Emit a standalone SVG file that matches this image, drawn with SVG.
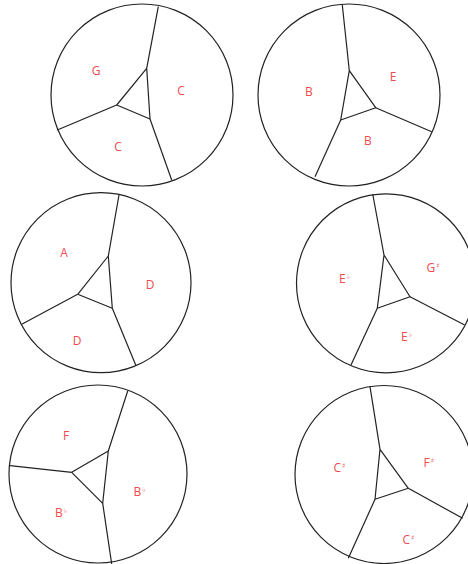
<svg xmlns="http://www.w3.org/2000/svg" width="468" height="564" viewBox="0 0 468 564">
<style>
.c{fill:none;stroke:#222;stroke-width:1.2}
.l{fill:none;stroke:#222;stroke-width:1.2;stroke-linejoin:round}
.t{font-family:"Open Sans","Liberation Sans",sans-serif;font-size:12px;fill:#ee4a4f}
.m{text-anchor:middle}
.a{font-family:"DejaVu Sans",sans-serif;font-size:7px}
</style>
<rect width="468" height="564" fill="#fff"/>
<g id="chord1">
<circle class="c" cx="142" cy="95" r="91"/>
<g class="edges"><polyline class="l" points="158.3,6.7 146.7,68.3 116.7,105 150,119 146.7,68.3"/><line class="l" x1="116.7" y1="105" x2="57.3" y2="130"/><line class="l" x1="150" y1="119" x2="171.7" y2="180"/></g>
<text class="t m" x="96" y="75">G</text><text class="t m" x="181" y="95">C</text><text class="t m" x="118" y="151">C</text>
</g>
<g id="chord2">
<circle class="c" cx="349" cy="95" r="91"/>
<g class="edges"><polyline class="l" points="342.3,5 349.3,70.7 375.7,107.7 340.7,120 349.3,70.7"/><line class="l" x1="375.7" y1="107.7" x2="431.7" y2="131.7"/><line class="l" x1="340.7" y1="120" x2="315" y2="176.7"/></g>
<text class="t m" x="309" y="96">B</text><text class="t m" x="393" y="81">E</text><text class="t m" x="368" y="145">B</text>
</g>
<g id="chord3">
<circle class="c" cx="101" cy="282.7" r="90"/>
<g class="edges"><polyline class="l" points="119,195 108.3,256 77.7,294.3 112.3,308.3 108.3,256"/><line class="l" x1="77.7" y1="294.3" x2="21.7" y2="324.3"/><line class="l" x1="112.3" y1="308.3" x2="135.7" y2="365"/></g>
<text class="t m" x="64" y="257">A</text><text class="t m" x="150" y="289">D</text><text class="t m" x="77" y="345">D</text>
</g>
<g id="chord4">
<circle class="c" cx="386" cy="283.3" r="89.5"/>
<g class="edges"><polyline class="l" points="372.7,194 384,255 410,296.7 377.3,308.3 384,255"/><line class="l" x1="410" y1="296.7" x2="464.7" y2="325"/><line class="l" x1="377.3" y1="308.3" x2="351" y2="365"/></g>
<text class="t" x="339" y="283">E<tspan class="a" dx="1" dy="-4">♭</tspan></text>
<text class="t" x="426.5" y="272">G<tspan class="a" dx="1" dy="-4">♯</tspan></text>
<text class="t" x="401" y="341">E<tspan class="a" dx="1" dy="-4">♭</tspan></text>
</g>
<g id="chord5">
<circle class="c" cx="98" cy="474" r="89"/>
<g class="edges"><polyline class="l" points="127.7,391 108.3,451 71.7,472.3 102.7,503.3 108.3,451"/><line class="l" x1="71.7" y1="472.3" x2="10" y2="465.7"/><line class="l" x1="102.7" y1="503.3" x2="111.7" y2="564"/></g>
<text class="t m" x="66" y="440">F</text>
<text class="t" x="133.5" y="496">B<tspan class="a" dx="1" dy="-4">♭</tspan></text>
<text class="t" x="55" y="516.5">B<tspan class="a" dx="1" dy="-4">♭</tspan></text>
</g>
<g id="chord6">
<circle class="c" cx="384" cy="474.5" r="89"/>
<g class="edges"><polyline class="l" points="370,386.7 380,449.3 408.3,488.3 375,499.3 380,449.3"/><line class="l" x1="408.3" y1="488.3" x2="462.7" y2="518.3"/><line class="l" x1="375" y1="499.3" x2="348.3" y2="558.3"/></g>
<text class="t" x="333.5" y="471.5">C<tspan class="a" dx="1" dy="-4">♯</tspan></text>
<text class="t" x="423.5" y="467">F<tspan class="a" dx="1" dy="-4">♯</tspan></text>
<text class="t" x="402.5" y="543.5">C<tspan class="a" dx="1" dy="-4">♯</tspan></text>
</g>
</svg>
